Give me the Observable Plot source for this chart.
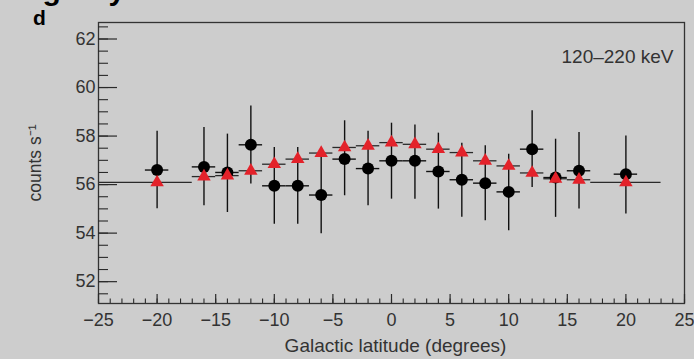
<!DOCTYPE html>
<html><head><meta charset="utf-8">
<script src="https://cdn.jsdelivr.net/npm/d3@7"></script>
<script src="https://cdn.jsdelivr.net/npm/@observablehq/plot@0.6"></script>
<style>
html,body{margin:0;padding:0;background:#cdcdcd;}
#chart{width:694px;height:359px;overflow:hidden;position:relative;}
</style></head><body><div id="chart"></div>
<script>
// Galactic latitude bin centres (degrees)
const latitude   = [-20, -16, -14, -12, -10, -8, -6, -4, -2, 0, 2, 4, 6, 8, 10, 12, 14, 16, 20];
// measured count rate (black circles) and its error bar ends
const countRate  = [56.60, 56.73, 56.50, 57.64, 55.95, 55.95, 55.57, 57.05, 56.66, 56.98, 56.98, 56.54, 56.20, 56.06, 55.70, 57.46, 56.29, 56.57, 56.43];
const rateLow    = [55.00, 55.13, 54.85, 56.02, 54.37, 54.37, 53.97, 55.54, 55.13, 55.40, 55.40, 54.99, 54.65, 54.51, 54.10, 55.88, 54.65, 54.99, 54.79];
const rateHigh   = [58.20, 58.35, 58.08, 59.24, 57.53, 57.53, 57.17, 58.63, 58.20, 58.53, 58.46, 58.12, 57.70, 57.60, 57.25, 59.04, 57.87, 58.15, 58.00];
// model (red triangles) and its bin edges
const modelRate  = [56.09, 56.33, 56.37, 56.57, 56.84, 57.05, 57.30, 57.53, 57.60, 57.73, 57.66, 57.46, 57.32, 56.98, 56.77, 56.48, 56.24, 56.20, 56.09];
const modelBinLo = [-25, -17, -15, -13, -11, -9, -7, -5, -3, -1, 1, 3, 5, 7, 9, 11, 13, 15, 17];
const modelBinHi = [-17, -15, -13, -11, -9, -7, -5, -3, -1, 1, 3, 5, 7, 9, 11, 13, 15, 17, 23];
const dataHalfBin = 1;
// axis ticks
const xMajorTicks = [-25, -20, -15, -10, -5, 0, 5, 10, 15, 20, 25];
const xMinorTicks = d3.range(-25, 25.01, 1);
const yMajorTicks = [52, 54, 56, 58, 60, 62];
const yMinorTicks = d3.range(51.5, 62.6, 0.5);
const energyLabel = "120\u2013220 keV";
const panelLabel = "d";

const points = latitude.map((x, i) => ({
  x, v: countRate[i], lo: rateLow[i], hi: rateHigh[i],
  m: modelRate[i], b0: modelBinLo[i], b1: modelBinHi[i]
}));

const font = "'Liberation Sans', Arial, Helvetica, sans-serif";
const ink = "#2a2a2a";

const chart = Plot.plot({
  width: 694, height: 359,
  marginLeft: 98, marginRight: 10, marginTop: 22, marginBottom: 56,
  style: {background: "#cdcdcd", fontFamily: font, color: "#333", overflow: "visible"},
  x: {domain: [-25, 25]},
  y: {domain: [51.1, 62.68]},
  marks: [
    Plot.ruleY(points, {y: "m", x1: "b0", x2: "b1", stroke: ink, strokeWidth: 1.3}),
    Plot.ruleX(points, {x: "x", y1: "lo", y2: "hi", stroke: "#111", strokeWidth: 1.4}),
    Plot.ruleY(points, {y: "v", x1: d => d.x - dataHalfBin, x2: d => d.x + dataHalfBin, stroke: "#111", strokeWidth: 1.4}),
    Plot.dot(points, {x: "x", y: "v", r: 6, fill: "#000"}),
    Plot.dot(points, {x: "x", y: "m", r: 5, symbol: "triangle", fill: "#e3222a"}),
    Plot.frame({stroke: "#333", strokeWidth: 1.3}),
    Plot.axisX({ticks: xMajorTicks, tickSize: -9, text: null, label: null, stroke: ink, strokeWidth: 1.2}),
    Plot.axisX({ticks: xMinorTicks, tickSize: -4.5, text: null, label: null, stroke: ink, strokeWidth: 1.1}),
    Plot.axisX({ticks: xMajorTicks, tickSize: 0, tickPadding: 10, fontSize: 18, fill: "#333", label: null}),
    Plot.axisY({ticks: yMajorTicks, tickSize: -19, text: null, label: null, stroke: ink, strokeWidth: 1.2}),
    Plot.axisY({ticks: yMinorTicks, tickSize: -10, text: null, label: null, stroke: ink, strokeWidth: 1.1}),
    Plot.axisY({ticks: yMajorTicks, tickSize: 0, tickPadding: 3, fontSize: 18, fill: "#333", label: null}),
    Plot.text(["Galactic latitude (degrees)"], {frameAnchor: "bottom", text: d => d, textAnchor: "middle",
      lineAnchor: "middle", dx: 4, dy: 42, fontSize: 19, fill: "#333"}),
    Plot.text(["counts s\u207B\u00B9"], {frameAnchor: "left", text: d => d, textAnchor: "middle",
      lineAnchor: "middle", rotate: -90, dx: -63, dy: 0, fontSize: 17.5, fill: "#333"}),
    Plot.text([energyLabel], {frameAnchor: "top-right", text: d => d, textAnchor: "end", lineAnchor: "middle",
      dx: -11, dy: 34, fontSize: 19, fill: "#333"}),
    Plot.text([panelLabel], {frameAnchor: "top-left", text: d => d, textAnchor: "middle", lineAnchor: "middle",
      dx: -59, dy: -4, fontSize: 21, fontWeight: "bold", fill: "#000"}),
    Plot.text(["g"], {frameAnchor: "top-left", text: d => d, textAnchor: "start", lineAnchor: "bottom",
      dx: -56, dy: -23, fontSize: 30, fontWeight: "bold", fill: "#000"}),
    Plot.text(["y"], {frameAnchor: "top-left", text: d => d, textAnchor: "start", lineAnchor: "bottom",
      dx: 10, dy: -23, fontSize: 30, fontWeight: "bold", fill: "#000"})
  ]
});
document.getElementById("chart").appendChild(chart);
</script>
</body></html>
